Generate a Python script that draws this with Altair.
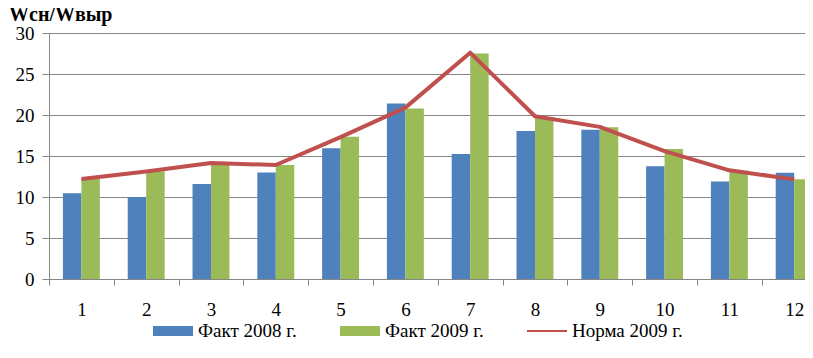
import altair as alt
import pandas as pd

# ---- data ----
months = list(range(1, 13))
fact_2008 = [10.45, 10.0, 11.6, 13.0, 15.95, 21.4, 15.25, 18.05, 18.2, 13.75, 11.9, 12.95]
fact_2009 = [12.2, 13.15, 13.95, 13.9, 17.35, 20.8, 27.5, 19.75, 18.5, 15.85, 13.2, 12.15]
norma_2009 = [12.2, 13.1, 14.15, 13.9, 17.3, 20.9, 27.6, 19.85, 18.55, 15.6, 13.25, 12.15]
series_names = ["Факт 2008 г.", "Факт 2009 г.", "Норма 2009 г."]
y_ticks = [0, 5, 10, 15, 20, 25, 30]
chart_title = "Wсн/Wвыр"

# ---- styles ----
colors = ["#4F81BD", "#9BBB59", "#C0504D"]
GRAY = "#868686"
FONT = "Liberation Serif"
BAR_W = 0.285
legend_shapes = [
    "M-2,-0.5L2,-0.5L2,0.5L-2,0.5Z",
    "M-2,-0.5L2,-0.5L2,0.5L-2,0.5Z",
    "M-2,-0.1L2,-0.1L2,0.1L-2,0.1Z",
]

bars_df = pd.DataFrame({
    "month": months * 2,
    "series": [series_names[0]] * 12 + [series_names[1]] * 12,
    "value": fact_2008 + fact_2009,
})
line_df = pd.DataFrame({"month": months, "series": [series_names[2]] * 12, "value": norma_2009})
legend_df = pd.DataFrame({"entry": series_names})

xscale = alt.Scale(domain=[0.5, 12.167], nice=False, zero=False)
yscale = alt.Scale(domain=[0, 30], nice=False)

boundaries = [m - 0.5 for m in months]

tick_axis = alt.Axis(
    values=boundaries, labels=False, tickSize=6, tickColor=GRAY, domainColor=GRAY,
    grid=False, title=None, orient="bottom",
)
label_axis = alt.Axis(
    values=months, ticks=False, domain=False, grid=False, title=None,
    labelFontSize=19, labelFont=FONT, labelColor="black", labelPadding=21,
    labelOverlap=False, labelFlush=False, orient="bottom", format="d",
)
y_axis = alt.Axis(
    values=y_ticks, tickSize=7, tickColor=GRAY, domainColor=GRAY, gridColor=GRAY,
    gridWidth=1, grid=True, title=None, labelFontSize=19, labelFont=FONT,
    labelColor="black", labelPadding=8,
)

bars = alt.Chart(bars_df).transform_calculate(
    x0=f"datum.month + (datum.series == '{series_names[0]}' ? -{BAR_W} : 0)",
    x1=f"datum.month + (datum.series == '{series_names[0]}' ? 0 : {BAR_W})",
).mark_bar(clip=True).encode(
    x=alt.X("x0:Q", scale=xscale, axis=tick_axis),
    x2="x1:Q",
    y=alt.Y("value:Q", scale=yscale, axis=y_axis),
    y2=alt.datum(0),
    fill=alt.condition(f"datum.series == '{series_names[0]}'", alt.value(colors[0]), alt.value(colors[1])),
)

line = alt.Chart(line_df).mark_line(
    strokeWidth=4, clip=True, strokeJoin="round", color=colors[2]
).encode(
    x=alt.X("month:Q", scale=xscale, axis=label_axis),
    y=alt.Y("value:Q", scale=yscale, axis=y_axis),
)

leg = alt.Legend(
    title=None, orient="none", legendX=114, legendY=288, direction="horizontal", columns=3,
    labelFont=FONT, labelFontSize=19, labelColor="black", labelOffset=15,
    columnPadding=43, symbolSize=400, symbolStrokeWidth=0, labelLimit=300,
)
legend_layer = alt.Chart(legend_df).transform_calculate(
    hx="1", hy="-100"
).mark_point(filled=True, size=400, clip=True, opacity=1).encode(
    x=alt.X("hx:Q", scale=xscale, axis=None),
    y=alt.Y("hy:Q", scale=yscale, axis=y_axis),
    color=alt.Color("entry:N", scale=alt.Scale(domain=series_names, range=colors), legend=leg),
    shape=alt.Shape("entry:N", scale=alt.Scale(domain=series_names, range=legend_shapes), legend=leg),
)

chart = alt.layer(bars, line, legend_layer).resolve_axis(x="independent").properties(
    width=756, height=246,
    autosize=alt.AutoSizeParams(type="none"),
    padding={"left": 41, "top": 25, "right": 0, "bottom": 65},
    title=alt.TitleParams(
        chart_title, anchor="start", frame="group", dx=-40, offset=0, dy=1,
        fontSize=20, font=FONT, fontWeight="bold", color="black",
    ),
).configure_view(stroke=None).configure(font=FONT)

chart.save("out.html", embed_options={"renderer": "svg", "actions": False})
